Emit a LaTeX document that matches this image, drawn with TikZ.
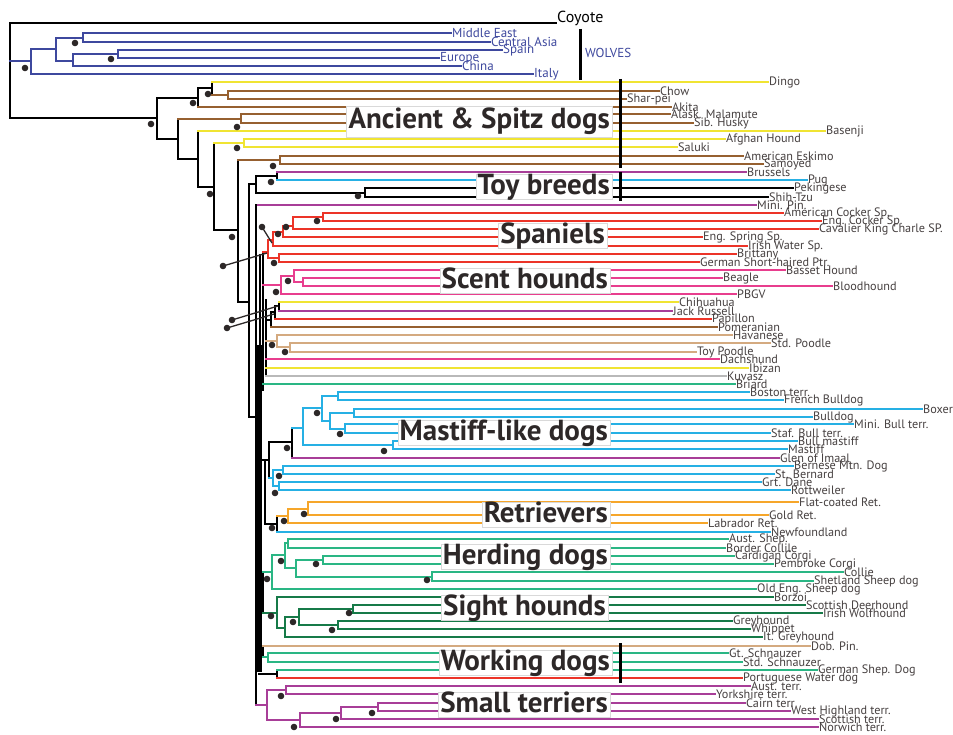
\documentclass[tikz,border=0pt]{standalone}
\usepackage{fontspec}
\setmainfont{PT Sans}
\usepackage{xcolor}
\usepackage{tikz}
\usetikzlibrary{positioning}

\definecolor{blu}{RGB}{62,72,158}
\definecolor{yel}{RGB}{240,228,50}
\definecolor{brn}{RGB}{150,96,48}
\definecolor{pur}{RGB}{168,62,152}
\definecolor{cya}{RGB}{38,176,228}
\definecolor{rd}{RGB}{236,52,40}
\definecolor{pnk}{RGB}{232,62,142}
\definecolor{tn}{RGB}{212,170,128}
\definecolor{gry}{RGB}{185,185,185}
\definecolor{tea}{RGB}{42,182,132}
\definecolor{dgr}{RGB}{22,122,72}
\definecolor{org}{RGB}{246,166,42}
\definecolor{txt}{RGB}{70,64,64}
\definecolor{dotc}{RGB}{45,40,40}

\newcommand\lblfont{\fontsize{12.2}{13}\selectfont}
\newcommand\wolffont{\fontsize{13}{14}\selectfont}
\newcommand\grpfont{\fontsize{29}{30}\selectfont\bfseries}
% leaf: colour, start x, y, end x, name, label
\newcommand\lf[6]{\node[lbl] (#5) at (#4,#3) {#6}; \draw[br,#1] (#2,#3) -- (#5.west);}

\begin{document}
\begin{tikzpicture}[x=1pt, y=-1pt]
    \tikzset{br/.style={line width=1.7pt, line cap=rect},
        lbl/.style={anchor=west, inner sep=1pt, font=\lblfont, text=txt},
        grp/.style={anchor=east, fill=white, draw=gray!30, line width=0.4pt, inner xsep=2pt, inner ysep=1pt, text height=19pt, text depth=4pt, font=\grpfont, text=dotc},
        bar/.style={line width=3pt}}
    \fill[white] (0,0) rectangle (953,735);
    \useasboundingbox (0,0) rectangle (953,735);

    % coyote and wolves
    \node[lbl, font=\fontsize{16}{17}\selectfont, text=black] (coyote) at (556,18) {Coyote};
    \draw[br] (10,23) -- (556,23);
    \draw[br] (10,23) -- (10,118);
    \draw[br,blu] (10,61) -- (31,61) (31,49) -- (31,74) (31,49) -- (56,49) (56,38) -- (56,61) (56,38) -- (83,38) (83,33) -- (83,42)
        (56,61) -- (73,61) (73,54) -- (73,66) (73,54) -- (118,54) (118,50) -- (118,58);
    \tikzset{lbl/.append style={text=blu, font=\wolffont}}
    \lf{blu}{83}{33}{451}{mideast}{Middle East}
    \lf{blu}{83}{42}{490}{centasia}{Central Asia}
    \lf{blu}{118}{50}{502}{spain}{Spain}
    \lf{blu}{118}{58}{439}{europe}{Europe}
    \lf{blu}{73}{66}{461}{china}{China}
    \lf{blu}{31}{74}{533}{italy}{Italy}
    \tikzset{lbl/.append style={text=txt, font=\lblfont}}
    \draw[bar] (580,29) -- (580,80);
    \node[lbl, text=blu, font=\wolffont] (wolves) at (584,53) {WOLVES};

    % ancient and spitz, toy breeds
    \draw[br] (10,118) -- (157,118) (157,98) -- (157,139) (157,98) -- (198,98) (198,88) -- (198,107) (198,88) -- (212,88) (212,82) -- (212,95)
        (157,139) -- (178,139) (178,119) -- (178,159) (178,159) -- (198,159) (198,131) -- (198,187) (198,187) -- (214,187) (214,143) -- (214,230)
        (214,230) -- (238,230) (238,160) -- (238,302) (238,302) -- (249,302) (249,184) -- (249,417) (249,184) -- (256,184) (256,176) -- (256,193)
        (256,176) -- (277,176) (277,172) -- (277,180) (256,193) -- (365,193) (365,188) -- (365,197);
    \draw[br,brn] (212,95) -- (228,95) (228,91) -- (228,99) (178,119) -- (241,119) (241,114) -- (241,123) (238,160) -- (280,160) (280,156) -- (280,164);
    \draw[br,yel] (214,143) -- (244,143) (244,139) -- (244,147);
    \lf{yel}{212}{82}{768}{dingo}{Dingo}
    \lf{brn}{228}{91}{659}{chow}{Chow}
    \lf{brn}{228}{99}{626}{sharpei}{Shar-pei}
    \lf{brn}{198}{107}{671}{akita}{Akita}
    \lf{brn}{241}{114}{670}{malamute}{Alask. Malamute}
    \lf{brn}{241}{123}{693}{husky}{Sib. Husky}
    \lf{yel}{198}{131}{825}{basenji}{Basenji}
    \lf{yel}{244}{139}{725}{afghan}{Afghan Hound}
    \lf{yel}{244}{147}{677}{saluki}{Saluki}
    \lf{brn}{280}{156}{743}{eskimo}{American Eskimo}
    \lf{brn}{280}{164}{763}{samoyed}{Samoyed}
    \lf{pur}{277}{172}{746}{brussels}{Brussels}
    \lf{cya}{277}{180}{807}{pug}{Pug}
    \lf{black}{365}{188}{793}{peke}{Pekingese}
    \lf{black}{365}{197}{768}{shihtzu}{Shih-Tzu}
    \lf{pur}{256}{205}{756}{minpin}{Mini. Pin.}

    % backbone
    \draw[br] (249,417) -- (256,417) (256,205) -- (256,705) (263,252) -- (263,390) (266,300) -- (266,376) (260,255) -- (260,345);
    \draw[line width=5pt] (259,345) -- (259,672);

    % spaniels and scent hounds
    \draw[br,rd] (263,252) -- (268,252) (268,240) -- (268,258) (268,240) -- (273,240) (273,232) -- (273,246) (273,232) -- (283,232) (283,226) -- (283,237)
        (283,226) -- (293,226) (293,217) -- (293,229) (293,217) -- (323,217) (323,213) -- (323,221) (268,258) -- (279,258) (279,254) -- (279,262);
    \lf{rd}{323}{213}{783}{amcocker}{American Cocker Sp.}
    \lf{rd}{323}{221}{821}{engcocker}{Eng. Cocker Sp.}
    \lf{rd}{293}{229}{818}{cavalier}{Cavalier King Charle SP.}
    \lf{rd}{283}{237}{702}{springer}{Eng. Spring Sp.}
    \lf{rd}{273}{246}{747}{irishwater}{Irish Water Sp.}
    \lf{rd}{279}{254}{736}{brittany}{Brittany}
    \lf{rd}{279}{262}{699}{gsp}{German Short-haired Ptr.}
    \draw[br,pnk] (263,285) -- (281,285) (281,276) -- (281,294) (281,276) -- (294,276) (294,270) -- (294,282) (294,282) -- (303,282) (303,278) -- (303,286);
    \lf{pnk}{294}{270}{785}{basset}{Basset Hound}
    \lf{pnk}{303}{278}{722}{beagle}{Beagle}
    \lf{pnk}{303}{286}{832}{bloodhound}{Bloodhound}
    \lf{pnk}{281}{294}{736}{pbgv}{PBGV}

    % small breeds and poodles
    \draw[br] (279,302) -- (279,311) (275,306) -- (275,319) (275,306) -- (279,306) (271,312) -- (271,327) (271,312) -- (275,312) (266,320) -- (271,320);
    \lf{yel}{279}{302}{678}{chihuahua}{Chihuahua}
    \lf{pur}{279}{311}{672}{jackrussell}{Jack Russell}
    \lf{rd}{275}{319}{711}{papillon}{Papillon}
    \lf{brn}{271}{327}{717}{pomeranian}{Pomeranian}
    \draw[br,tn] (266,341) -- (277,341) (277,335) -- (277,347) (277,347) -- (290,347) (290,343) -- (290,352);
    \lf{tn}{277}{335}{732}{havanese}{Havanese}
    \lf{tn}{290}{343}{770}{stdpoodle}{Std. Poodle}
    \lf{tn}{290}{352}{696}{toypoodle}{Toy Poodle}
    \lf{pnk}{266}{359}{719}{dachshund}{Dachshund}
    \lf{yel}{266}{368}{748}{ibizan}{Ibizan}
    \lf{gry}{266}{376}{726}{kuvasz}{Kuvasz}
    \lf{tea}{263}{384}{735}{briard}{Briard}

    % mastiff-like dogs
    \draw[br] (265,460) -- (265,524) (259,460) -- (269,460) (269,442) -- (269,478) (269,442) -- (292,442) (292,428) -- (292,458) (265,524) -- (277,524) (277,516) -- (277,532);
    \draw[br,cya] (292,428) -- (303,428) (303,408) -- (303,445) (303,408) -- (322,408) (322,396) -- (322,421) (322,396) -- (338,396) (338,392) -- (338,400)
        (322,421) -- (330,421) (330,413) -- (330,429) (330,413) -- (354,413) (354,409) -- (354,417) (330,429) -- (345,429) (345,424) -- (345,433)
        (303,445) -- (393,445) (393,441) -- (393,449) (269,478) -- (273,478) (273,470) -- (273,486) (273,470) -- (283,470) (283,466) -- (283,474)
        (273,486) -- (279,486) (279,482) -- (279,490);
    \lf{cya}{338}{392}{749}{boston}{Boston terr.}
    \lf{cya}{338}{400}{783}{frenchbd}{French Bulldog}
    \lf{cya}{354}{409}{922}{boxer}{Boxer}
    \lf{cya}{354}{417}{812}{bulldog}{Bulldog}
    \lf{cya}{345}{424}{853}{minibull}{Mini. Bull terr.}
    \lf{cya}{345}{433}{770}{stafbull}{Staf. Bull terr.}
    \lf{cya}{393}{441}{797}{bullmastiff}{Bull mastiff}
    \lf{cya}{393}{449}{787}{mastiff}{Mastiff}
    \lf{pur}{292}{458}{779}{glen}{Glen of Imaal}
    \lf{cya}{283}{466}{793}{bernese}{Bernese Mtn. Dog}
    \lf{cya}{283}{474}{774}{stbernard}{St. Bernard}
    \lf{cya}{279}{482}{761}{dane}{Grt. Dane}
    \lf{cya}{279}{490}{790}{rottweiler}{Rottweiler}

    % retrievers
    \draw[br,org] (277,516) -- (288,516) (288,509) -- (288,523) (288,509) -- (308,509) (308,502) -- (308,515);
    \lf{org}{308}{502}{798}{flatcoat}{Flat-coated Ret.}
    \lf{org}{308}{515}{768}{golden}{Gold Ret.}
    \lf{org}{288}{523}{707}{labrador}{Labrador Ret.}
    \lf{cya}{277}{532}{770}{newfie}{Newfoundland}

    % herding dogs
    \draw[br] (263,572) -- (263,613);
    \draw[br,tea] (263,572) -- (272,572) (272,555) -- (272,588) (272,555) -- (285,555) (285,543) -- (285,568) (285,543) -- (288,543) (288,539) -- (288,548)
        (285,568) -- (296,568) (296,560) -- (296,577) (296,560) -- (323,560) (323,556) -- (323,564) (296,577) -- (432,577) (432,572) -- (432,581);
    \lf{tea}{288}{539}{728}{austshep}{Aust. Shep.}
    \lf{tea}{288}{548}{725}{bordercollie}{Border Collile}
    \lf{tea}{323}{556}{734}{cardigan}{Cardigan Corgi}
    \lf{tea}{323}{564}{773}{pembroke}{Pembroke Corgi}
    \lf{tea}{432}{572}{843}{collie}{Collie}
    \lf{tea}{432}{581}{813}{sheltie}{Shetland Sheep dog}
    \lf{tea}{272}{589}{756}{oldeng}{Old Eng. Sheep dog}

    % sight hounds
    \draw[br,dgr] (263,613) -- (277,613) (277,597) -- (277,628) (277,628) -- (285,628) (285,617) -- (285,637) (285,617) -- (299,617) (299,609) -- (299,625)
        (299,609) -- (353,609) (353,605) -- (353,613) (299,625) -- (338,625) (338,621) -- (338,629);
    \lf{dgr}{277}{597}{773}{borzoi}{Borzoi}
    \lf{dgr}{353}{605}{805}{deerhound}{Scottish Deerhound}
    \lf{dgr}{353}{613}{822}{wolfhound}{Irish Wolfhound}
    \lf{dgr}{338}{621}{732}{greyhound}{Greyhound}
    \lf{dgr}{338}{629}{750}{whippet}{Whippet}
    \lf{dgr}{285}{637}{762}{itgrey}{It. Greyhound}

    % working dogs
    \draw[br] (263,646) -- (263,657) (259,651) -- (263,651) (259,674) -- (277,674) (277,670) -- (277,678);
    \draw[br,tea] (263,657) -- (268,657) (268,653) -- (268,662);
    \lf{tn}{263}{646}{810}{dobpin}{Dob. Pin.}
    \lf{tea}{268}{653}{728}{gtschnauzer}{Gt. Schnauzer}
    \lf{tea}{268}{662}{742}{stdschnauzer}{Std. Schnauzer}
    \lf{tea}{277}{670}{817}{gsd}{German Shep. Dog}
    \lf{rd}{277}{678}{742}{portuguese}{Portuguese Water dog}

    % small terriers
    \draw[br,pur] (256,705) -- (267,705) (267,690) -- (267,720) (267,690) -- (286,690) (286,686) -- (286,694) (267,720) -- (300,720) (300,713) -- (300,727)
        (300,713) -- (341,713) (341,707) -- (341,719) (341,707) -- (378,707) (378,703) -- (378,711);
    \lf{pur}{286}{686}{750}{austterr}{Aust. terr.}
    \lf{pur}{286}{694}{715}{yorkie}{Yorkshire terr.}
    \lf{pur}{378}{703}{745}{cairn}{Cairn terr}
    \lf{pur}{378}{711}{790}{westie}{West Highland terr.}
    \lf{pur}{341}{719}{818}{scottie}{Scottish terr.}
    \lf{pur}{300}{727}{818}{norwich}{Norwich terr.}

    % support dots
    \draw[line width=1.3pt, dotc] (262,227) -- (272,243) (223,266) -- (267,253) (232,320) -- (278,306) (227,328) -- (274,314);
    \foreach \p in {(25,68),(75,43),(111,59),(151,124),(193,103),(208,94),(237,127),(210,194),(237,148),(232,237),(273,166),(271,182),(358,196),
        (317,221),(286,227),(278,234),(274,263),(262,227),(223,266),(288,281),(276,292),(232,320),(227,328),(272,345),(285,352),
        (317,413),(340,434),(384,451),(287,448),(279,476),(275,493),(304,514),(284,521),(272,528),(281,561),(316,564),(427,580),(267,579),
        (271,616),(293,622),(349,613),(332,630),(281,696),(372,713),(336,719),(294,727)}
        \fill[dotc] \p circle (3.3);

    % group labels
    \node[grp, text height=21pt, text depth=8pt] (ancient) at (612,122) {Ancient \& Spitz dogs};
    \node[grp] (toy) at (612,187) {Toy breeds};
    \node[grp] (spaniels) at (607,236) {Spaniels};
    \node[grp] (scent) at (610,281) {Scent hounds};
    \node[grp] (mastifflike) at (610,433) {Mastiff-like dogs};
    \node[grp] (retrievers) at (610,515) {Retrievers};
    \node[grp] (herding) at (610,557) {Herding dogs};
    \node[grp] (sight) at (608,608) {Sight hounds};
    \node[grp] (working) at (612,663) {Working dogs};
    \node[grp] (terriers) at (610,705) {Small terriers};
    \draw[bar] (620,79) -- (620,168) (620,172) -- (620,201) (620,643) -- (620,683);
\end{tikzpicture}
\end{document}
